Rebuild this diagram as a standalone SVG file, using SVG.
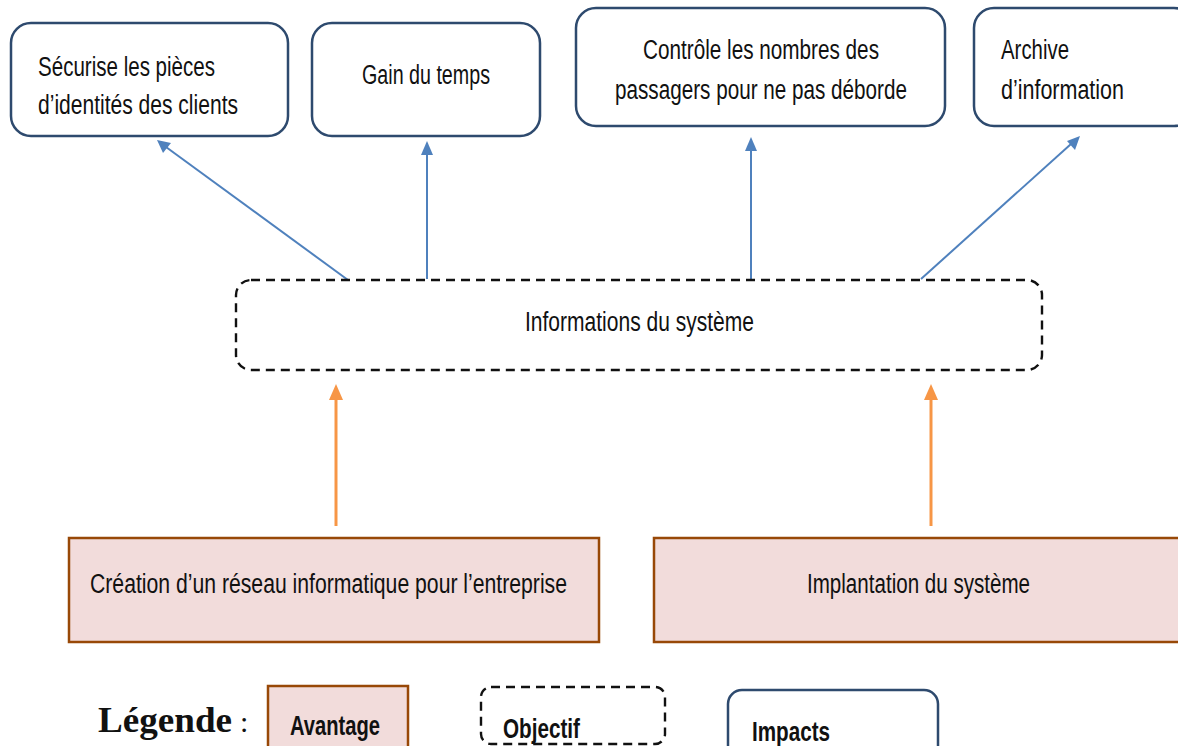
<svg xmlns="http://www.w3.org/2000/svg" width="1178" height="746" viewBox="0 0 1178 746">
  <defs>
    <style>
      .lbl { font-family: "Liberation Sans", Arial, sans-serif; font-size: 27px; fill: #111; }
      .lgd { font-family: "Liberation Sans", Arial, sans-serif; font-size: 28px; font-weight: bold; fill: #111; }
      .impact { fill: #fff; stroke: #2e4a6e; stroke-width: 2.5; }
      .goal { fill: #fff; stroke: #111; stroke-width: 2.4; stroke-dasharray: 9 6; }
      .adv { fill: #f2dcdb; stroke: #984807; stroke-width: 2.5; }
      .blue { stroke: #4f81bd; stroke-width: 2; fill: none; }
      .orange { stroke: #f79646; stroke-width: 3; fill: none; }
    </style>
  </defs>

  <rect width="1178" height="746" fill="#fff"/>

  <!-- connectors -->
  <g id="connectors">
    <line class="blue" x1="348" y1="280" x2="166" y2="147"/>
    <path d="M157,140 L171,143 L163,153 z" fill="#4f81bd"/>
    <line class="blue" x1="427" y1="279" x2="427" y2="152"/>
    <path d="M427,141 L433,155 L421,155 z" fill="#4f81bd"/>
    <line class="blue" x1="751" y1="279" x2="751" y2="148"/>
    <path d="M751,137 L757,151 L745,151 z" fill="#4f81bd"/>
    <line class="blue" x1="921" y1="279" x2="1071" y2="144"/>
    <path d="M1080,136 L1075,150 L1067,141 z" fill="#4f81bd"/>

    <line class="orange" x1="336" y1="526" x2="336" y2="396"/>
    <path d="M336,384 L343,400 L329,400 z" fill="#f79646"/>
    <line class="orange" x1="931" y1="526" x2="931" y2="396"/>
    <path d="M931,384 L938,400 L924,400 z" fill="#f79646"/>
  </g>

  <!-- impacts -->
  <g id="impact-securise">
    <rect class="impact" x="11" y="23" width="277" height="113" rx="20"/>
    <text class="lbl" x="38" y="76" textLength="177" lengthAdjust="spacingAndGlyphs">Sécurise les pièces</text>
    <text class="lbl" x="38" y="114" textLength="200" lengthAdjust="spacingAndGlyphs">d’identités des clients</text>
  </g>
  <g id="impact-gain">
    <rect class="impact" x="312" y="23" width="228" height="113" rx="20"/>
    <text class="lbl" x="362" y="84" textLength="128" lengthAdjust="spacingAndGlyphs">Gain du temps</text>
  </g>
  <g id="impact-controle">
    <rect class="impact" x="576" y="8" width="369" height="118" rx="20"/>
    <text class="lbl" x="643" y="59" textLength="236" lengthAdjust="spacingAndGlyphs">Contrôle les nombres des</text>
    <text class="lbl" x="615" y="99" textLength="292" lengthAdjust="spacingAndGlyphs">passagers pour ne pas déborde</text>
  </g>
  <g id="impact-archive">
    <rect class="impact" x="974" y="8" width="220" height="118" rx="20"/>
    <text class="lbl" x="1001" y="59" textLength="68" lengthAdjust="spacingAndGlyphs">Archive</text>
    <text class="lbl" x="1001" y="99" textLength="123" lengthAdjust="spacingAndGlyphs">d’information</text>
  </g>

  <!-- objective -->
  <g id="objectif-systeme">
    <rect class="goal" x="236" y="280" width="806" height="90" rx="15"/>
    <text class="lbl" x="525" y="331" textLength="229" lengthAdjust="spacingAndGlyphs">Informations du système</text>
  </g>

  <!-- advantages -->
  <g id="avantage-reseau">
    <rect class="adv" x="69" y="538" width="530" height="104"/>
    <text class="lbl" x="90" y="593" textLength="477" lengthAdjust="spacingAndGlyphs">Création d’un réseau informatique pour l’entreprise</text>
  </g>
  <g id="avantage-implantation">
    <rect class="adv" x="654" y="538" width="530" height="104"/>
    <text class="lbl" x="807" y="593" textLength="223" lengthAdjust="spacingAndGlyphs">Implantation du système</text>
  </g>

  <!-- legend -->
  <g id="legende">
    <text x="98" y="732" font-family="Liberation Serif, serif" font-size="36" font-weight="bold" fill="#111" textLength="134" lengthAdjust="spacingAndGlyphs">Légende</text>
    <text x="240" y="732" font-family="Liberation Serif, serif" font-size="30" fill="#111">:</text>
    <rect class="adv" x="268" y="686" width="140" height="70"/>
    <text class="lgd" x="290" y="735" textLength="90" lengthAdjust="spacingAndGlyphs">Avantage</text>
    <rect class="goal" x="481" y="687" width="184" height="57" rx="10"/>
    <text class="lgd" x="503" y="738" textLength="77" lengthAdjust="spacingAndGlyphs">Objectif</text>
    <rect class="impact" x="728" y="690" width="210" height="70" rx="14"/>
    <text class="lgd" x="752" y="741" textLength="78" lengthAdjust="spacingAndGlyphs">Impacts</text>
  </g>
</svg>
